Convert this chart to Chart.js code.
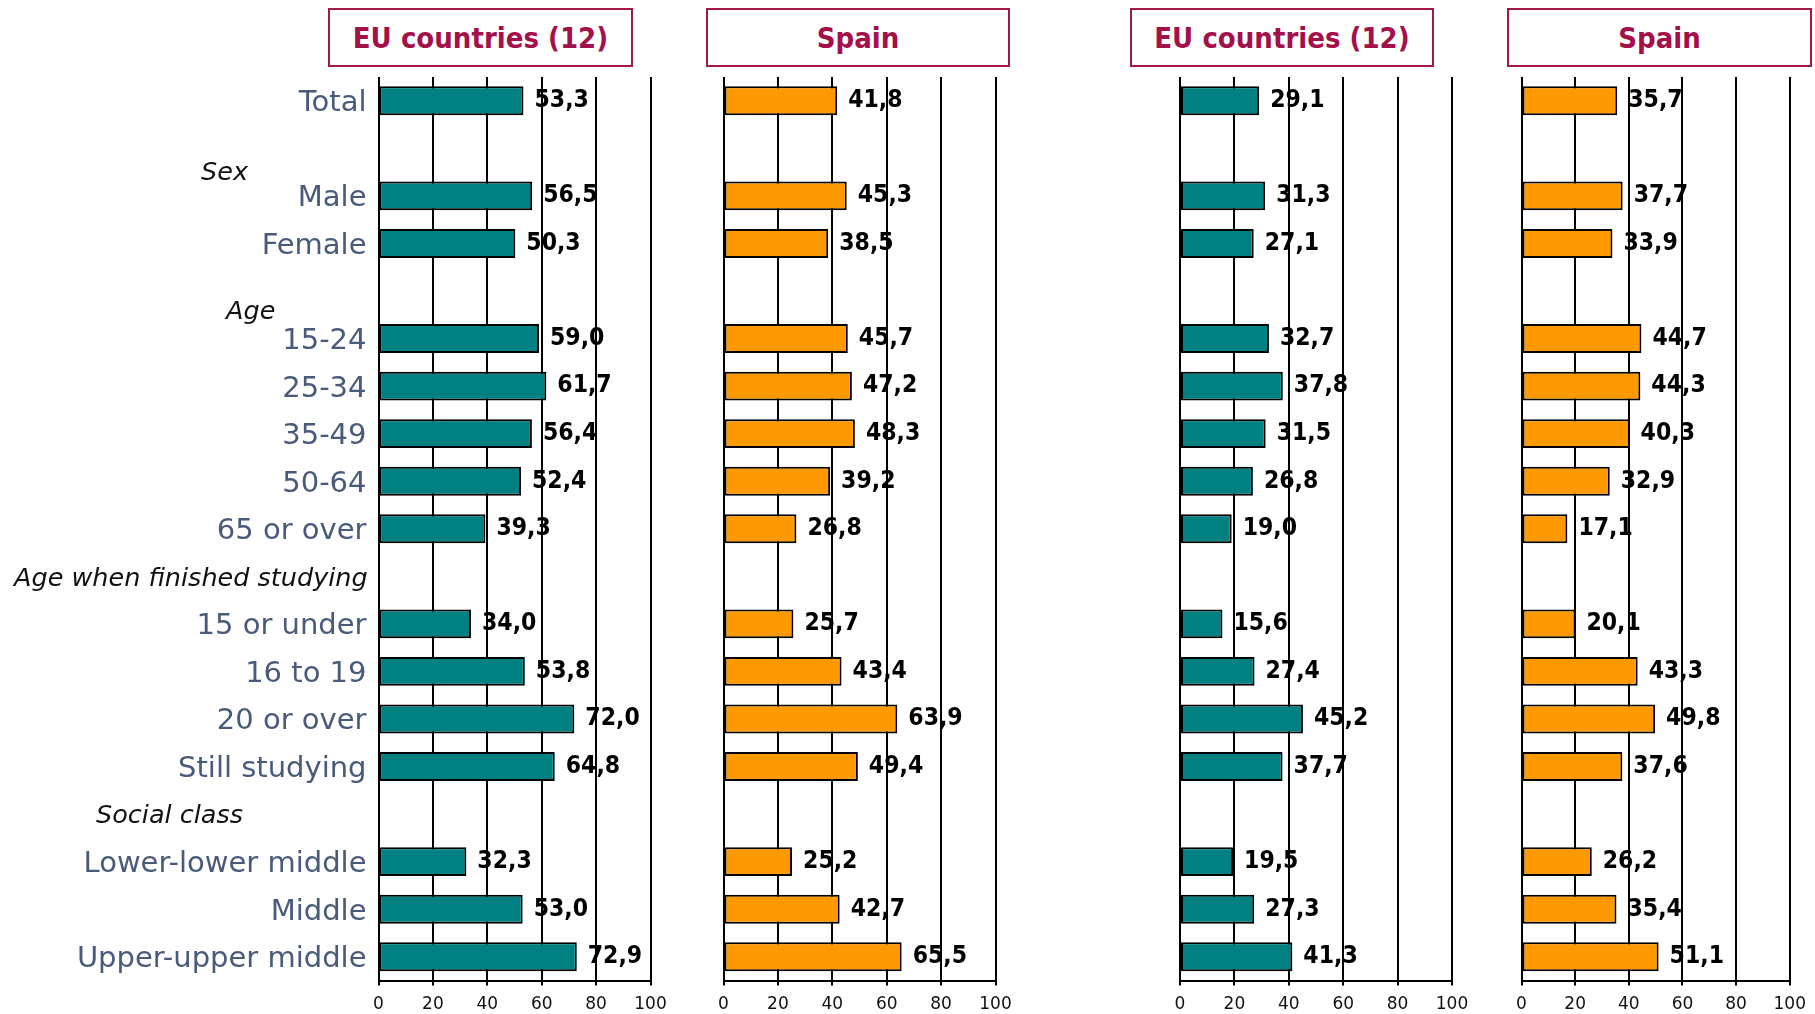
<!DOCTYPE html>
<html>
<head>
<meta charset="utf-8">
<title>EU countries (12) / Spain</title>
<script src="https://cdn.jsdelivr.net/npm/chart.js@4"></script>
<style>
    html, body { margin: 0; padding: 0; background: #fff; }
    #page { position: relative; width: 1815px; height: 1014px; overflow: hidden; }
    #page canvas { position: absolute; left: 0; top: 0; }
    .panel-title {
        position: absolute;
        top: 8px;
        height: 59px;
        border: 2px solid #a3174b;
        color: #a3104a;
        font: bold 29px "DejaVu Sans Condensed", "DejaVu Sans", sans-serif;
        white-space: nowrap;
        display: flex;
        align-items: center;
        justify-content: center;
        box-sizing: border-box;
    }
</style>
</head>
<body>
<div id="page">
    <div class="panel-title" style="left:328px;width:305px;">EU countries (12)</div>
    <div class="panel-title" style="left:706px;width:304px;">Spain</div>
    <div class="panel-title" style="left:1130px;width:304px;">EU countries (12)</div>
    <div class="panel-title" style="left:1507px;width:305px;">Spain</div>
    <canvas id="c1" width="1815" height="1014"></canvas>
    <canvas id="c2" width="1815" height="1014"></canvas>
    <canvas id="c3" width="1815" height="1014"></canvas>
    <canvas id="c4" width="1815" height="1014"></canvas>
</div>

<script>
// Rows (blank rows hold the group headings)
const categories = [
    'Total', '',
    'Male', 'Female', '',
    '15-24', '25-34', '35-49', '50-64', '65 or over', '',
    '15 or under', '16 to 19', '20 or over', 'Still studying', '',
    'Lower-lower middle', 'Middle', 'Upper-upper middle'
];

const headingLabels = ['Sex', 'Age', 'Age when finished studying', 'Social class'];
const headingRows = [1, 4, 10, 15];

const euLeft = [53.3, null, 56.5, 50.3, null, 59.0, 61.7, 56.4, 52.4, 39.3, null, 34.0, 53.8, 72.0, 64.8, null, 32.3, 53.0, 72.9];
const spainLeft = [41.8, null, 45.3, 38.5, null, 45.7, 47.2, 48.3, 39.2, 26.8, null, 25.7, 43.4, 63.9, 49.4, null, 25.2, 42.7, 65.5];
const euRight = [29.1, null, 31.3, 27.1, null, 32.7, 37.8, 31.5, 26.8, 19.0, null, 15.6, 27.4, 45.2, 37.7, null, 19.5, 27.3, 41.3];
const spainRight = [35.7, null, 37.7, 33.9, null, 44.7, 44.3, 40.3, 32.9, 17.1, null, 20.1, 43.3, 49.8, 37.6, null, 26.2, 35.4, 51.1];

const xTicks = [0, 20, 40, 60, 80, 100];

const TEAL = '#008080';
const ORANGE = '#ff9900';
const PAGE_W = 1815;
const PLOT_TOP = 77;
const PLOT_BOTTOM = 980.5;

// value printed just right of each bar, with a decimal comma
const valueLabels = {
    id: 'valueLabels',
    afterDatasetsDraw(chart) {
        const ctx = chart.ctx;
        const meta = chart.getDatasetMeta(0);
        const data = chart.data.datasets[0].data;
        ctx.save();
        ctx.font = 'bold 24.5px "DejaVu Sans Condensed", "DejaVu Sans", sans-serif';
        ctx.fillStyle = '#000';
        ctx.textAlign = 'left';
        ctx.textBaseline = 'middle';
        meta.data.forEach((bar, i) => {
            if (data[i] == null) return;
            ctx.fillText(data[i].toFixed(1).replace('.', ','), bar.x + 11, bar.y);
        });
        ctx.restore();
    }
};

// italic group headings in the left margin
const groupHeadings = {
    id: 'groupHeadings',
    afterDraw(chart, args, opts) {
        if (!opts.show) return;
        const ctx = chart.ctx;
        const y = chart.scales.y;
        ctx.save();
        ctx.font = 'italic 25.5px "DejaVu Sans", sans-serif';
        ctx.fillStyle = '#111';
        ctx.textAlign = 'left';
        ctx.textBaseline = 'middle';
        headingLabels.forEach((label, i) => {
            const pos = opts.positions[i];
            ctx.fillText(label, pos.x, y.getPixelForValue(headingRows[i]) + pos.dy);
        });
        ctx.restore();
    }
};

function makePanel(canvasId, values, color, x0, x100, showLabels) {
    const ctx = document.getElementById(canvasId).getContext('2d');
    return new Chart(ctx, {
        type: 'bar',
        data: {
            labels: categories,
            datasets: [{
                data: values,
                backgroundColor: color,
                borderColor: '#000',
                borderWidth: 2,
                borderSkipped: false,
                barPercentage: 0.8,
                categoryPercentage: 0.76
            }]
        },
        options: {
            indexAxis: 'y',
            responsive: false,
            animation: false,
            layout: {
                padding: {
                    top: PLOT_TOP,
                    bottom: 0,
                    left: showLabels ? 0 : x0,
                    right: PAGE_W - x100
                }
            },
            plugins: {
                legend: { display: false },
                tooltip: { enabled: false },
                groupHeadings: {
                    show: showLabels,
                    positions: [
                        { x: 201, dy: 25 },
                        { x: 226, dy: 21 },
                        { x: 14, dy: 3 },
                        { x: 96, dy: 2 }
                    ]
                }
            },
            scales: {
                x: {
                    min: 0,
                    max: 100,
                    afterBuildTicks: (scale) => {
                        scale.ticks = xTicks.map(v => ({ value: v }));
                    },
                    afterFit: (scale) => { scale.height = 1014 - PLOT_BOTTOM; },
                    grid: {
                        color: '#000',
                        lineWidth: 2,
                        drawTicks: true,
                        tickLength: 5
                    },
                    border: { display: true, color: '#000', width: 2 },
                    ticks: {
                        color: '#111',
                        padding: 9,
                        maxRotation: 0,
                        font: { family: '"DejaVu Sans", sans-serif', size: 17 }
                    }
                },
                y: {
                    display: showLabels,
                    afterFit: (scale) => { if (showLabels) scale.width = x0; },
                    grid: { display: false },
                    border: { display: false },
                    ticks: {
                        color: '#4a5a7a',
                        padding: 4,
                        labelOffset: 3,
                        autoSkip: false,
                        font: { family: '"DejaVu Sans", sans-serif', size: 29 }
                    }
                }
            }
        },
        plugins: [valueLabels, groupHeadings]
    });
}

makePanel('c1', euLeft, TEAL, 378.5, 650.5, true);
makePanel('c2', spainLeft, ORANGE, 723.5, 995.5, false);
makePanel('c3', euRight, TEAL, 1180, 1452, false);
makePanel('c4', spainRight, ORANGE, 1521.5, 1793.5, false);
</script>
</body>
</html>
